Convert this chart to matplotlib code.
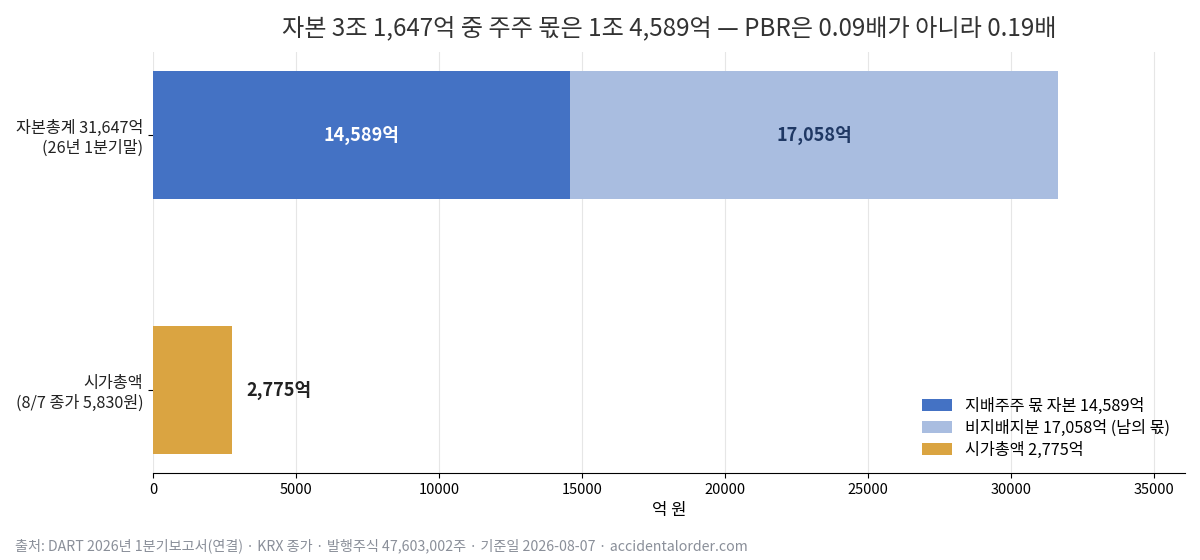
import numpy as np
import matplotlib.pyplot as plt

plt.rcParams['font.family'] = ['Noto Sans CJK KR', 'DejaVu Sans']

# 데이터 (억 원)
categories = ['자본총계 31,647억\n(26년 1분기말)', '시가총액\n(8/7 종가 5,830원)']
controlling = [14589, 0]
non_controlling = [17058, 0]
market_cap = [0, 2775]

legend_labels = ['지배주주 몫 자본 14,589억', '비지배지분 17,058억 (남의 몫)', '시가총액 2,775억']
title = '자본 3조 1,647억 중 주주 몫은 1조 4,589억 — PBR은 0.09배가 아니라 0.19배'
source = '출처: DART 2026년 1분기보고서(연결) · KRX 종가 · 발행주식 47,603,002주 · 기준일 2026-08-07 · accidentalorder.com'

c_ctrl = '#4472C4'
c_non = '#A9BDE0'
c_mc = '#DAA441'

fig, ax = plt.subplots(figsize=(12, 5.6), dpi=100)
fig.subplots_adjust(left=0.1275, right=0.9875, top=0.907, bottom=0.155)

y = np.arange(len(categories))
h = 0.5
ax.barh(y[0], controlling[0], height=h, color=c_ctrl, label=legend_labels[0], zorder=3)
ax.barh(y[0], non_controlling[0], left=controlling[0], height=h, color=c_non,
        label=legend_labels[1], zorder=3)
ax.barh(y[1], market_cap[1], height=h, color=c_mc, label=legend_labels[2], zorder=3)

ax.text(controlling[0] / 2, y[0], f'{controlling[0]:,}억', ha='center', va='center',
        color='white', fontsize=13, fontweight='bold', zorder=4)
ax.text(controlling[0] + non_controlling[0] / 2, y[0], f'{non_controlling[0]:,}억',
        ha='center', va='center', color='#1F3864', fontsize=13, fontweight='bold', zorder=4)
ax.text(market_cap[1] + 500, y[1], f'{market_cap[1]:,}억', ha='left', va='center',
        color='#222222', fontsize=13, fontweight='bold', zorder=4)

ax.set_yticks(y)
ax.set_yticklabels(categories, fontsize=11.7, color='#222222')
ax.invert_yaxis()
ax.set_xlim(0, (controlling[0] + non_controlling[0]) * 1.14)
ax.set_xlabel('억 원', fontsize=12)
ax.tick_params(axis='x', labelsize=10.5)
ax.grid(axis='x', color='#E6E6E6', linewidth=0.8, zorder=0)
for s in ['top', 'right', 'left']:
    ax.spines[s].set_visible(False)

ax.set_title(title, fontsize=17.4, color='#333333', pad=12)
ax.legend(loc='lower right', frameon=False, fontsize=11.7, handlelength=1.9,
          labelspacing=0.3, handletextpad=0.8)

fig.text(0.0125, 0.018, source, fontsize=10.2, color='#8A8F99')

fig.savefig('out.png', dpi=100)
